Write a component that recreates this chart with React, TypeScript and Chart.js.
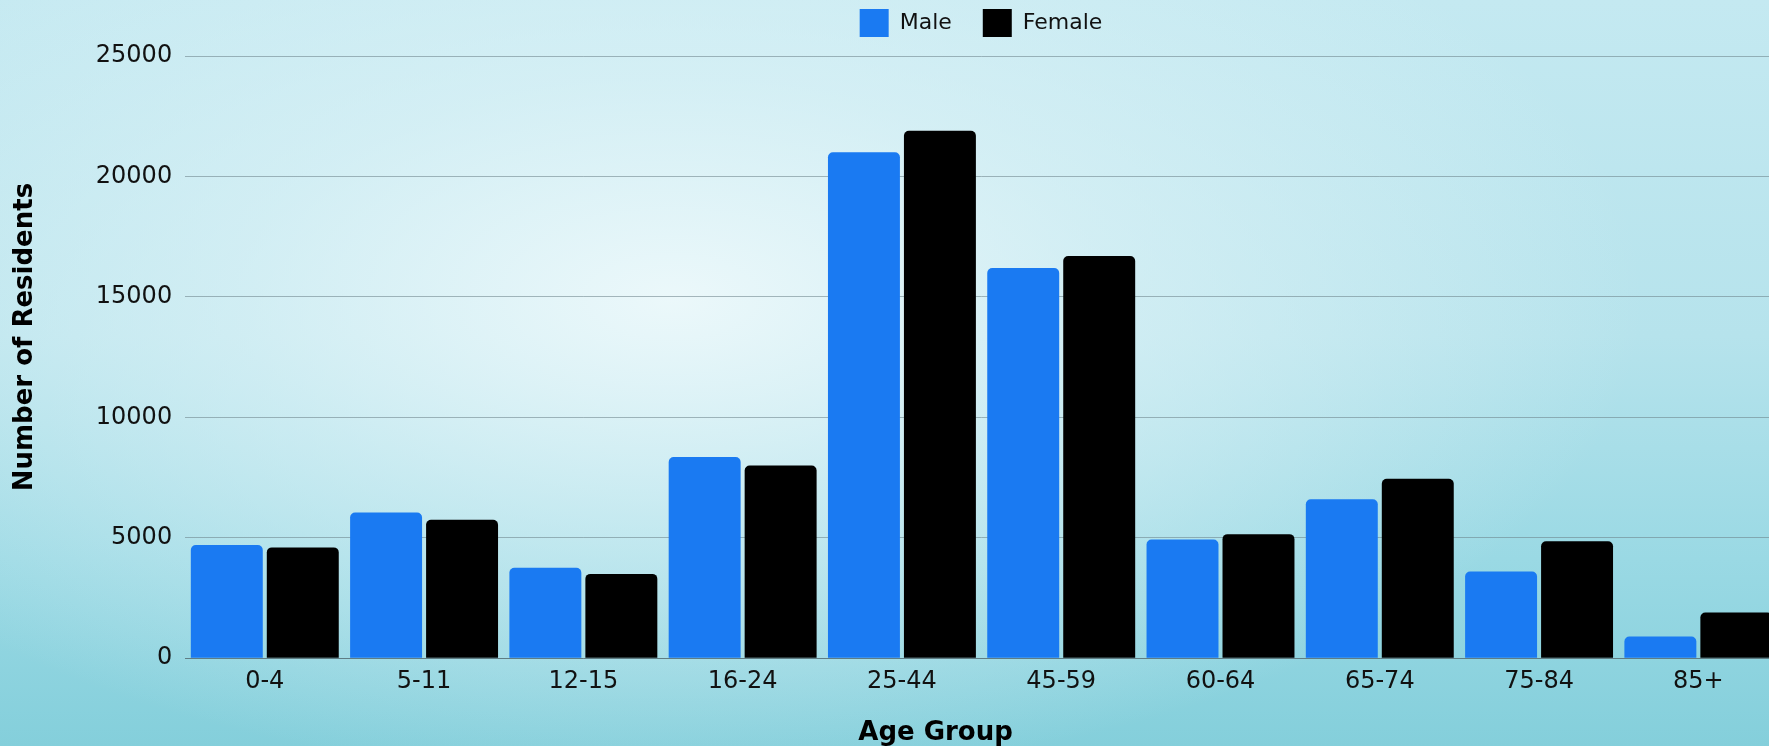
import React, { useEffect, useRef } from 'react';
import { Chart, registerables } from 'chart.js';

Chart.register(...registerables);

const categories = ['0-4', '5-11', '12-15', '16-24', '25-44', '45-59', '60-64', '65-74', '75-84', '85+'];
const maleValues = [4700, 6050, 3750, 8350, 21000, 16200, 4930, 6600, 3600, 900];
const femaleValues = [4600, 5750, 3500, 8000, 21900, 16700, 5150, 7450, 4850, 1900];
const seriesNames = ['Male', 'Female'];
const seriesColors = ['#1a7af2', '#000000'];
const yTicks = [0, 5000, 10000, 15000, 20000, 25000];
const xTitle = 'Age Group';
const yTitle = 'Number of Residents';

const FONT = '"DejaVu Sans", sans-serif';

const legendSpacer = {
  id: 'legendSpacer',
  beforeInit(chart: any) {
    const legend = chart.legend;
    if (!legend) return;
    const originalFit = legend.fit;
    legend.fit = function fit() {
      originalFit.bind(legend)();
      this.height += 9;
    };
  },
};

const axisTitlesPlugin = {
  id: 'axisTitlesText',
  afterDraw(chart: any) {
    const { ctx, chartArea } = chart;
    const xs = chart.scales.x;
    ctx.save();
    ctx.fillStyle = '#000';
    // x-axis title
    ctx.font = `bold 26px ${FONT}`;
    ctx.textAlign = 'center';
    ctx.textBaseline = 'alphabetic';
    ctx.fillText(xTitle, (chartArea.left + chartArea.right) / 2 - 46, xs.bottom - 9);
    // y-axis title
    ctx.translate(25, (chartArea.top + chartArea.bottom) / 2 - 20);
    ctx.rotate(-Math.PI / 2);
    ctx.font = `bold 26px ${FONT}`;
    ctx.textAlign = 'center';
    ctx.textBaseline = 'middle';
    ctx.fillText(yTitle, 0, 0);
    ctx.restore();
  },
};

export default function App() {
  const canvasRef = useRef<HTMLCanvasElement | null>(null);

  useEffect(() => {
    if (!canvasRef.current) return;
    const chart = new Chart(canvasRef.current, {
      type: 'bar',
      data: {
        labels: categories,
        datasets: [
          {
            label: seriesNames[0],
            data: maleValues,
            backgroundColor: seriesColors[0],
            borderWidth: 0,
            borderRadius: 5,
            categoryPercentage: 0.954,
            barPercentage: 0.947,
          },
          {
            label: seriesNames[1],
            data: femaleValues,
            backgroundColor: seriesColors[1],
            borderWidth: 0,
            borderRadius: 5,
            categoryPercentage: 0.954,
            barPercentage: 0.947,
          },
        ],
      },
      options: {
        animation: false,
        responsive: true,
        maintainAspectRatio: false,
        layout: { padding: 0 },
        plugins: {
          legend: {
            display: true,
            position: 'top',
            align: 'center',
            labels: {
              boxWidth: 29,
              boxHeight: 28,
              padding: 31,
              color: '#111',
              font: { family: FONT, size: 22 },
            },
          },
          tooltip: { enabled: false },
        },
        scales: {
          x: {
            grid: { display: false, drawTicks: false },
            border: { display: true, color: '#5f7d84', width: 1 },
            ticks: { color: '#111', font: { family: FONT, size: 24 }, padding: 9 },
            afterFit: (s: any) => {
              s.height += 44;
            },
          },
          y: {
            min: yTicks[0],
            max: yTicks[yTicks.length - 1],
            ticks: {
              stepSize: yTicks[1] - yTicks[0],
              color: '#111',
              font: { family: FONT, size: 24 },
              padding: 13,
              callback: (v: any) => String(v),
            },
            grid: { color: 'rgba(105,128,134,0.55)', lineWidth: 1, drawTicks: false },
            border: { display: false },
            title: { display: false },
            afterFit: (s: any) => {
              s.width += 82.8;
            },
          },
          y1: {
            position: 'right',
            display: true,
            min: 0,
            max: 1,
            grid: { display: false, drawTicks: false },
            border: { display: false },
            ticks: { display: false },
            afterFit: (s: any) => {
              s.width = 184;
            },
          },
        },
      },
      plugins: [legendSpacer, axisTitlesPlugin],
    } as any);
    return () => chart.destroy();
  }, []);

  return (
    <div
      style={{
        position: 'fixed',
        left: 0,
        top: 0,
        width: '100vw',
        height: '100vh',
        overflow: 'hidden',
        background:
          'radial-gradient(ellipse 55% 65% at 38% 40%, rgba(238,249,251,0.95) 0%, rgba(225,244,248,0.6) 45%, rgba(225,244,248,0) 100%), linear-gradient(to bottom, #c4e9f1 0%, #b6e3ec 45%, #9ad9e4 75%, #84cfdb 100%)',
      }}
    >
      <div style={{ position: 'absolute', left: 0, top: -22, width: 1962, height: 771 }}>
        <canvas ref={canvasRef} />
      </div>
    </div>
  );
}
